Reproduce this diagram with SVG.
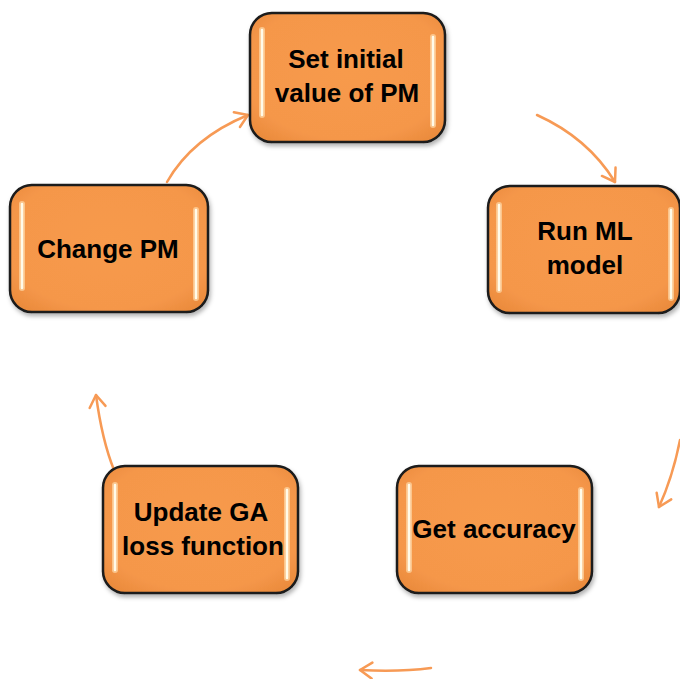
<svg xmlns="http://www.w3.org/2000/svg" width="680" height="679" viewBox="0 0 680 679">
<defs>
<style>
.box{fill:url(#fillg);stroke:#1a1a1a;stroke-width:2.5;filter:url(#shadow)}
.glw{stroke:#FFD9A8;stroke-width:6;stroke-linecap:round;opacity:0.7}
.hl{stroke:#FFFBEA;stroke-width:2.5;stroke-linecap:round}
.t{font-family:"Liberation Sans",Arial,sans-serif;font-weight:bold;font-size:26px;fill:#000;text-anchor:middle}
.arr{fill:none;stroke:#F79A55;stroke-width:2.5;stroke-linecap:round;marker-end:url(#ah)}
</style>
<radialGradient id="fillg" cx="50%" cy="45%" r="70%">
<stop offset="0" stop-color="#F79A4C"/>
<stop offset="0.75" stop-color="#F5974A"/>
<stop offset="1" stop-color="#E9893A"/>
</radialGradient>
<filter id="shadow" x="-10%" y="-10%" width="125%" height="130%">
<feDropShadow dx="1.5" dy="3" stdDeviation="2" flood-color="#000" flood-opacity="0.3"/>
</filter>
<marker id="ah" markerUnits="userSpaceOnUse" markerWidth="30" markerHeight="30" refX="0" refY="0" viewBox="-15 -15 30 30" orient="auto">
<path d="M-12,-8 L0,0 L-12,8" fill="none" stroke="#F79A55" stroke-width="2.5" stroke-linecap="round" stroke-linejoin="round"/>
</marker>
</defs>

<g id="connectors">
<path class="arr" d="M167,182 Q192,138 248,115"/>
<path class="arr" d="M537,115 Q588,138 615,182"/>
<path class="arr" d="M680,440 Q673,476 659,507"/>
<path class="arr" d="M431,668 Q400,672 360,670"/>
<path class="arr" d="M114,470 Q102,440 96,395"/>
</g>

<g id="set-initial">
<rect class="box" x="250" y="13" width="195" height="129" rx="22"/>
<line class="glw" x1="262" y1="30" x2="262" y2="115"/>
<line class="hl" x1="262" y1="30" x2="262" y2="115"/>
<line class="glw" x1="433" y1="37" x2="433" y2="125"/>
<line class="hl" x1="433" y1="37" x2="433" y2="125"/>
<text class="t" x="346" y="68">Set initial</text>
<text class="t" x="347" y="102">value of PM</text>
</g>

<g id="run-ml">
<rect class="box" x="488" y="186" width="192" height="127" rx="22"/>
<line class="glw" x1="499" y1="205" x2="499" y2="290"/>
<line class="hl" x1="499" y1="205" x2="499" y2="290"/>
<line class="glw" x1="671" y1="210" x2="671" y2="298"/>
<line class="hl" x1="671" y1="210" x2="671" y2="298"/>
<text class="t" x="585" y="240">Run ML</text>
<text class="t" x="585" y="274">model</text>
</g>

<g id="change-pm">
<rect class="box" x="10" y="185" width="198" height="127" rx="22"/>
<line class="glw" x1="22" y1="204" x2="22" y2="288"/>
<line class="hl" x1="22" y1="204" x2="22" y2="288"/>
<line class="glw" x1="196" y1="210" x2="196" y2="298"/>
<line class="hl" x1="196" y1="210" x2="196" y2="298"/>
<text class="t" x="108" y="258">Change PM</text>
</g>

<g id="update-ga">
<rect class="box" x="103" y="466" width="195" height="127" rx="22"/>
<line class="glw" x1="115" y1="485" x2="115" y2="570"/>
<line class="hl" x1="115" y1="485" x2="115" y2="570"/>
<line class="glw" x1="287" y1="490" x2="287" y2="578"/>
<line class="hl" x1="287" y1="490" x2="287" y2="578"/>
<text class="t" x="201" y="521">Update GA</text>
<text class="t" x="203" y="555">loss function</text>
</g>

<g id="get-accuracy">
<rect class="box" x="397" y="466" width="195" height="127" rx="22"/>
<line class="glw" x1="409" y1="485" x2="409" y2="570"/>
<line class="hl" x1="409" y1="485" x2="409" y2="570"/>
<line class="glw" x1="581" y1="490" x2="581" y2="578"/>
<line class="hl" x1="581" y1="490" x2="581" y2="578"/>
<text class="t" x="494" y="538">Get accuracy</text>
</g>
</svg>
